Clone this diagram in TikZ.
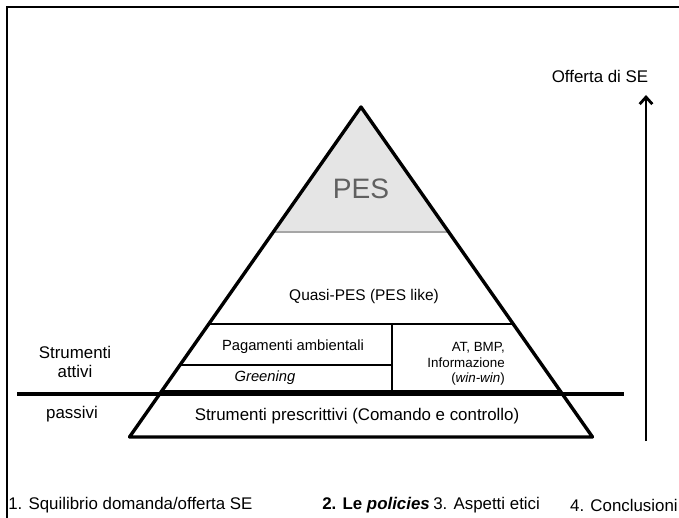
\documentclass[tikz,border=0pt]{standalone}
\usepackage{fontspec}
\setmainfont{Liberation Sans}
\usetikzlibrary{arrows.meta}

\tikzset{
  outline/.style={line width=2.4pt, line join=round},
  inner/.style={line width=2pt},
  txt/.style={font=\fontsize{12}{14}\selectfont, inner sep=0pt},
  smalltxt/.style={font=\fontsize{10.5}{12}\selectfont, inner sep=0pt},
}

\begin{document}
\begin{tikzpicture}[x=0.025cm, y=-0.025cm]
        \useasboundingbox (0,0) rectangle (679,518);

        % cornice
        \draw[line width=2pt] (7,518) -- (7,7) -- (679,7);

        % vertice PES
        \fill[gray!20] (361,107) -- (273.3,232) -- (448.7,232) -- cycle;
        \draw[gray!70, line width=1pt] (273.3,232) -- (448.7,232);

        % piramide
        \draw[outline] (361,107) -- (129.5,437) -- (592.5,437) -- cycle;
        \draw[inner] (208.8,324) -- (513.2,324);
        \draw[inner] (161.8,391) -- (560.2,391);
        \draw[inner] (180,365) -- (392,365);
        \draw[inner] (392,324) -- (392,391);
        \draw[line width=3.2pt] (17,394) -- (624,394);

        % testi
        \node[font=\fontsize{20}{22}\selectfont, text=gray!75!black, inner sep=0pt] (pes) at (361,189) {PES};
        \node[txt, font=\fontsize{11}{13}\selectfont] (quasi) at (364,296) {Quasi-PES (PES like)};
        \node[smalltxt] (pag) at (293,347) {Pagamenti ambientali};
        \node[smalltxt] (green) at (265,378) {\textit{Greening}};
        \node[align=right, anchor=east, inner sep=0pt,
              font=\fontsize{9.5}{11}\selectfont] (at) at (505,364)
              {AT, BMP,\\Informazione\\(\textit{win-win})};
        \node[txt] (prescr) at (357,416) {Strumenti prescrittivi (Comando e controllo)};

        \node[txt, align=center] (attivi) at (75,362) {Strumenti\\attivi};
        \node[txt] (passivi) at (72,414) {passivi};

        % offerta
        \node[txt] (offerta) at (600,76) {Offerta di SE};
        \coordinate (base) at (646,441);
        \coordinate (tip) at (646,95);
        \draw[line width=2pt, -{Straight Barb[length=5pt, width=9pt]}] (base) -- (tip);

        % indice
        \node[txt, anchor=west] (i1) at (8,505) {1. Squilibrio domanda/offerta SE};
        \node[txt, anchor=west] (i2) at (322,505) {\textbf{2. Le \textit{policies}}};
        \node[txt, anchor=west] (i3) at (433,505) {3. Aspetti etici};
        \node[txt, anchor=east] (i4) at (678,505) {4. Conclusioni};
    \end{tikzpicture}
\end{document}
